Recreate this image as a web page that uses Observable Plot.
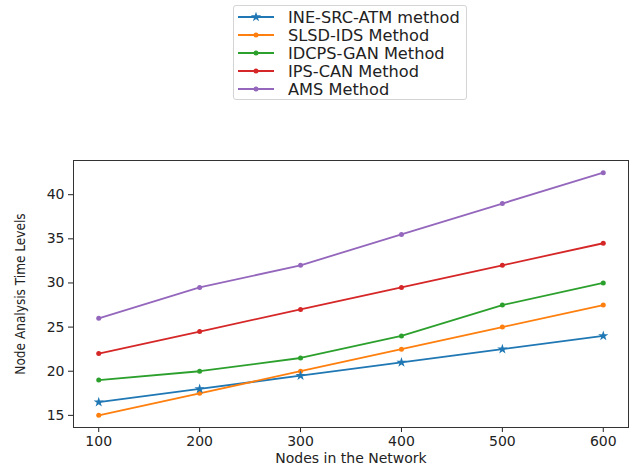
<!DOCTYPE html>
<html>
<head>
<meta charset="utf-8">
<script src="https://cdn.jsdelivr.net/npm/d3@7"></script>
<script src="https://cdn.jsdelivr.net/npm/@observablehq/plot@0.6"></script>
<style>
  html, body { margin: 0; padding: 0; background: #fff; }
  #wrap { position: relative; width: 636px; height: 468px; font-family: "DejaVu Sans", sans-serif; }
  #legend { position: absolute; left: 233px; top: 5px; width: 234px; height: 95px; border: 1px solid #d4d4d4; border-radius: 3px; background: #fff; box-sizing: border-box; padding-top: 2px; }
  .row { display: flex; align-items: center; height: 18px; white-space: nowrap; font-size: 16.2px; color: #222; }
  .row svg { margin-left: 4px; margin-right: 14px; }
  #chart { position: absolute; left: 0; top: 0; }
</style>
</head>
<body>
<div id="wrap"><div id="chart"></div><div id="legend"></div></div>
<script>
const nodes = [100, 200, 300, 400, 500, 600];
const ineSrcAtm = [16.5, 18, 19.5, 21, 22.5, 24];
const slsdIds = [15, 17.5, 20, 22.5, 25, 27.5];
const idcpsGan = [19, 20, 21.5, 24, 27.5, 30];
const ipsCan = [22, 24.5, 27, 29.5, 32, 34.5];
const ams = [26, 29.5, 32, 35.5, 39, 42.5];
const seriesNames = ["INE-SRC-ATM method", "SLSD-IDS Method", "IDCPS-GAN Method", "IPS-CAN Method", "AMS Method"];
const seriesValues = [ineSrcAtm, slsdIds, idcpsGan, ipsCan, ams];
const seriesColors = ["#1f77b4", "#ff7f0e", "#2ca02c", "#d62728", "#9467bd"];
const xTicks = [100, 200, 300, 400, 500, 600];
const yTicks = [15, 20, 25, 30, 35, 40];

const rows = seriesNames.flatMap((s, i) => nodes.map((n, j) => ({series: s, x: n, y: seriesValues[i][j]})));
const starRows = rows.filter(d => d.series === seriesNames[0]);
const dotRows = rows.filter(d => d.series !== seriesNames[0]);

const chart = Plot.plot({
  width: 636,
  height: 468,
  marginTop: 160,
  marginBottom: 41,
  marginLeft: 73,
  marginRight: 8,
  style: {fontFamily: "DejaVu Sans, sans-serif", fontSize: "14px", color: "#222", background: "#fff"},
  x: {domain: [75, 625]},
  y: {domain: [13.625, 43.875]},
  color: {domain: seriesNames, range: seriesColors},
  marks: [
    Plot.axisX({ticks: xTicks, tickSize: 5, tickPadding: 4, label: "Nodes in the Network", labelAnchor: "center", labelArrow: "none", labelOffset: 35, fontSize: 14}),
    Plot.axisY({ticks: yTicks, tickSize: 5, tickPadding: 4, label: "Node Analysis Time Levels", labelAnchor: "center", labelArrow: "none", labelOffset: 58, fontSize: 14}),
    Plot.line(rows, {x: "x", y: "y", z: "series", stroke: "series", strokeWidth: 1.8}),
    Plot.dot(dotRows, {x: "x", y: "y", fill: "series", r: 2.5}),
    Plot.dot(starRows, {x: "x", y: "y", fill: "series", symbol: "star", r: 3.2}),
    Plot.frame({stroke: "#333", strokeWidth: 1})
  ]
});
document.getElementById("chart").appendChild(chart);

// the reference's y label looks condensed
d3.select(chart).selectAll('g[aria-label="y-axis label"] text')
  .style("font-family", "'DejaVu Sans Condensed', 'DejaVu Sans', sans-serif")
  .style("font-size", "13.5px");

const legend = document.getElementById("legend");
seriesNames.forEach((s, i) => {
  const row = document.createElement("div");
  row.className = "row";
  const star = i === 0;
  const marker = star
    ? `<path transform="translate(18,5)" d="${d3.symbol(d3.symbolStar, 32)()}" fill="${seriesColors[i]}"/>`
    : `<circle cx="18" cy="5" r="2.5" fill="${seriesColors[i]}"/>`;
  row.innerHTML = `<svg width="36" height="10"><line x1="0" x2="36" y1="5" y2="5" stroke="${seriesColors[i]}" stroke-width="1.8"/>${marker}</svg><span>${s}</span>`;
  legend.appendChild(row);
});
</script>
</body>
</html>
